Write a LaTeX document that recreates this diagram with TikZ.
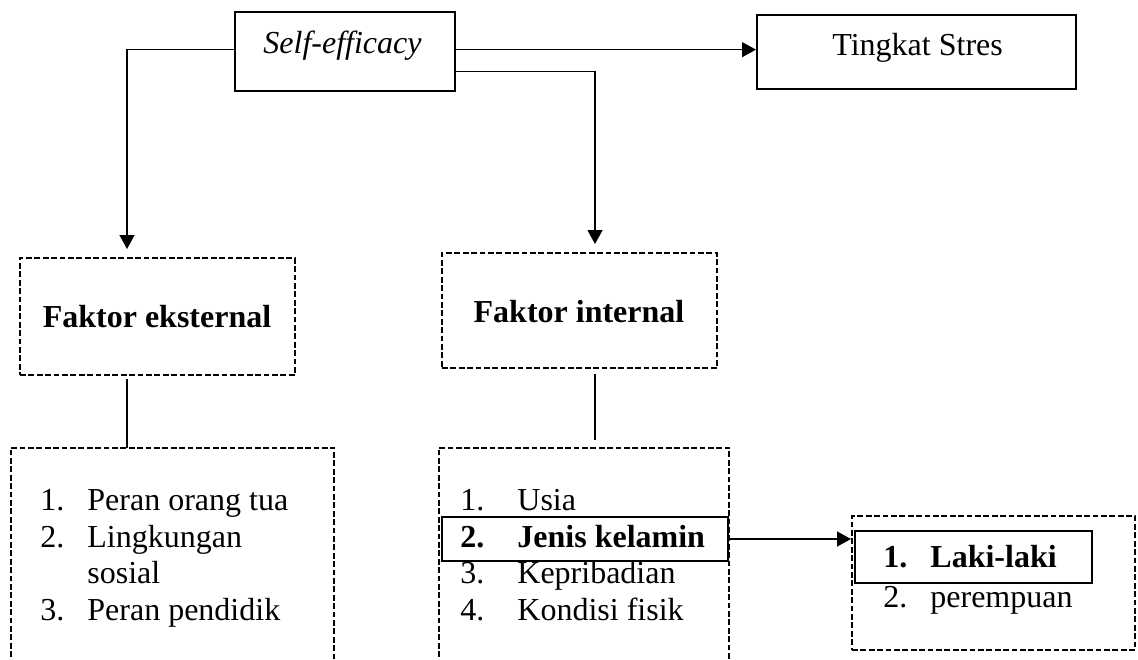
\documentclass[tikz,border=0pt]{standalone}
\usepackage{fontspec}
\setmainfont{Liberation Serif}
\usetikzlibrary{arrows.meta,fit}
\begin{document}
\begin{tikzpicture}[x=0.5pt,y=-0.5pt,
  solidbox/.style={draw, line width=1pt, inner sep=0pt},
  dashes/.style={line width=1pt, dash pattern=on 2.9pt off 1.3pt},
  dashbox/.style={draw, dashes, inner sep=0pt},
  frame/.style={inner sep=0pt},
  link/.style={line width=0.65pt},
  arrowlink/.style={link, -{Triangle[length=7pt,width=7.5pt]}},
  txt/.style={font=\fontsize{16}{19}\selectfont, inner sep=0pt, anchor=base west},
  ctxt/.style={txt, anchor=base}]
\useasboundingbox (0,0) rectangle (1138,659);

% top boxes
\node[solidbox, fit={(234.7,12.3) (454.5,91)}] (self) {};
\node[solidbox, fit={(757,15) (1076,89)}] (stres) {};
\node[ctxt] (selft) at (342.5,53) {\itshape Self-efficacy};
\node[txt] (strest) at (832,55) {Tingkat Stres};

% factor boxes
\node[dashbox, fit={(20,258) (295,375)}] (ext) {};
\node[dashbox, fit={(442,253) (717,368)}] (int) {};
\node[ctxt] (extt) at (157,327) {\bfseries Faktor eksternal};
\node[ctxt] (intt) at (579,322) {\bfseries Faktor internal};

% list frames, open at the bottom
\node[frame, fit={(11,448) (334,665)}] (extlist) {};
\node[frame, fit={(439,448) (729,665)}] (intlist) {};
\draw[dashes] (extlist.south west) |- (extlist.north east) -- (extlist.south east);
\draw[dashes] (intlist.south west) |- (intlist.north east) -- (intlist.south east);
\node[dashbox, fit={(852,516) (1135,650)}] (gender) {};

% external factors
\node[txt] (e1n) at (40,510) {1.};
\node[txt] (e1) at (87,510) {Peran orang tua};
\node[txt] (e2n) at (40,547) {2.};
\node[txt] (e2) at (87,547) {Lingkungan};
\node[txt] (e2b) at (87,583) {sosial};
\node[txt] (e3n) at (40,620) {3.};
\node[txt] (e3) at (87,620) {Peran pendidik};

% internal factors
\node[solidbox, fit={(442,517) (728,561)}] (jenis) {};
\node[txt] (i1n) at (460,510) {1.};
\node[txt] (i1) at (517,510) {Usia};
\node[txt] (i2n) at (460,547) {\bfseries 2.};
\node[txt] (i2) at (517,547) {\bfseries Jenis kelamin};
\node[txt] (i3n) at (460,583) {3.};
\node[txt] (i3) at (517,583) {Kepribadian};
\node[txt] (i4n) at (460,620) {4.};
\node[txt] (i4) at (517,620) {Kondisi fisik};

% gender
\node[solidbox, fit={(855,531) (1092,583)}] (laki) {};
\node[txt] (g1n) at (883,567) {\bfseries 1.};
\node[txt] (g1) at (930,567) {\bfseries Laki-laki};
\node[txt] (g2n) at (883,607) {2.};
\node[txt] (g2) at (930,607) {perempuan};

% bend columns of the connectors
\coordinate (colext) at (127,0);
\coordinate (colint) at (595,0);

% connectors
\draw[arrowlink] ([yshift=1pt]self.east) -- ([yshift=1pt]self.east -| stres.west);
\draw[arrowlink, shorten >=4pt] ([yshift=1pt]self.west) -| (ext.north -| colext);
\draw[arrowlink, shorten >=4pt] ([yshift=-10pt]self.east) -| (int.north -| colint);
\draw[link, shorten <=1.5pt] (ext.south -| colext) -- (extlist.north -| colext);
\draw[link, shorten <=2.5pt, shorten >=4pt] (int.south -| colint) -- (intlist.north -| colint);
\draw[arrowlink] (jenis.east) -- (jenis.east -| gender.west);
\end{tikzpicture}
\end{document}
